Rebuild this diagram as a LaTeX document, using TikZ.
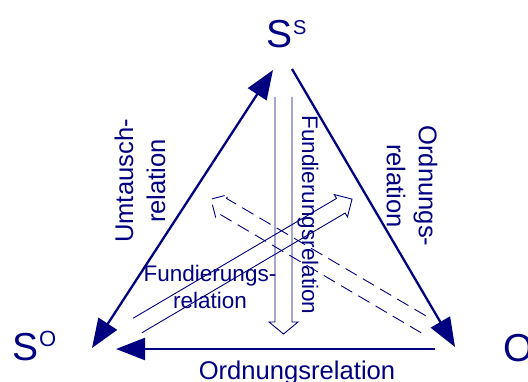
\documentclass[tikz,border=0pt]{standalone}
\usepackage{fontspec}
\setmainfont{Liberation Sans}
\usetikzlibrary{arrows.meta}
\definecolor{navy}{RGB}{0,0,128}
\tikzset{
  edge/.style={draw=navy, line width=2.3pt},
  bigtip/.tip={Triangle[length=29pt,width=22pt]},
  hollow/.style={draw=navy, line width=0.9pt, line join=miter},
  hollowdash/.style={hollow, dash pattern=on 13pt off 7pt},
  lbl/.style={text=navy, inner sep=0pt, font=\fontsize{25.6pt}{32pt}\selectfont, align=center},
  smalllbl/.style={text=navy, inner sep=0pt, font=\fontsize{22.5pt}{27pt}\selectfont, align=center},
  corner/.style={text=navy, inner sep=0pt, font=\fontsize{39pt}{39pt}\selectfont},
}
\newcommand{\supx}[3]{\raisebox{#2}{\fontsize{#1}{#1}\selectfont #3}}
\begin{document}
\begin{tikzpicture}[x=1pt,y=-1pt]
\useasboundingbox (0,0) rectangle (528,382);

% corner labels
\node[corner, anchor=base west] (SS) at (266,48) {S\hspace{1pt}\supx{20pt}{13pt}{S}};
\node[corner, anchor=base west] (SO) at (12,361) {S\hspace{1pt}\supx{22pt}{14pt}{O}};
\node[corner, anchor=base west] (O) at (503,362) {O};

% edge endpoints
\coordinate (ssL) at (273,70);
\coordinate (ssR) at (292,69);
\coordinate (soT) at (92,348);
\coordinate (soR) at (116,349);
\coordinate (oL)  at (435,349);
\coordinate (oT)  at (455,347);

% triangle edges
\draw[edge, bigtip-bigtip] (soT) -- (ssL);
\draw[edge, -bigtip] (ssR) -- (oT);
\draw[edge, -bigtip] (oL) -- (soR);

% vertical hollow arrow
\draw[hollow] (275,97) -- (275,322) -- (269,322) -- (283.5,334) -- (298,322) -- (292,322) -- (292,97);

% diagonal hollow arrow (solid)
\begin{scope}[shift={(137.5,325.5)}, rotate=30.5]
\draw[hollow] (0,-8.5) -- (236,-8.5) -- (236,-13) -- (249,0) -- (236,13) -- (236,8.5) -- (0,8.5);
\end{scope}

% diagonal hollow arrow (dashed)
\begin{scope}[shift={(425.5,325.5)}, rotate=149.5]
\draw[hollowdash] (0,-8.5) -- (236,-8.5) -- (236,-13) -- (249,0) -- (236,13) -- (236,8.5) -- (0,8.5);
\end{scope}

% labels
\node[lbl, rotate=90] (umt) at (140,181) {Umtausch-\\relation};
\node[lbl, rotate=-90] (ordR) at (412,186) {Ordnungs-\\relation};
\node[smalllbl, rotate=-90] (fundV) at (308,215) {Fundierungsrelation};
\node[smalllbl] (fundD) at (210,287) {Fundierungs-\\relation};
\node[lbl, anchor=base] (ordB) at (297,379) {Ordnungsrelation};
\end{tikzpicture}
\end{document}
